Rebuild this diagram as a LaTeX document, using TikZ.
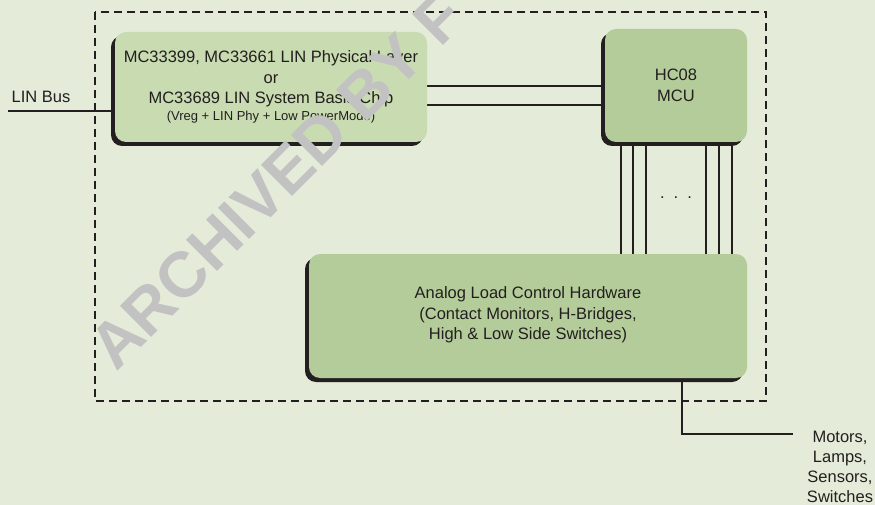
\documentclass[tikz,border=0pt]{standalone}
\usepackage{fontspec}
\setmainfont{Liberation Sans}
\usetikzlibrary{shadows}
\definecolor{bgc}{HTML}{E4ECD9}
\definecolor{boxA}{HTML}{C9DBB1}
\definecolor{boxB}{HTML}{B4CC99}
\definecolor{ink}{HTML}{231F20}
\definecolor{wmc}{HTML}{C2C2C2}
\pgfdeclarelayer{back}
\pgfsetlayers{back,main}
\begin{document}
\begin{tikzpicture}[x=1pt,y=-1pt,
  font=\fontsize{16.5}{20.5}\selectfont,
  blk/.style={rounded corners=11pt, fill=boxB, text=ink, align=center, inner sep=0pt,
    general shadow={fill=ink, shadow xshift=-4pt, shadow yshift=-4pt}},
  wire/.style={draw=ink, line width=1.4pt},
  lbl/.style={text=ink, align=center, inner sep=0pt},
  wmark/.style={text=wmc, font=\bfseries\fontsize{64}{64}\selectfont, inner sep=0pt}]
\useasboundingbox (0,0) rectangle (875,505);
\begin{pgfonlayer}{back}
\fill[bgc] (0,0) rectangle (875,505);
\end{pgfonlayer}
% boxes
\node[blk, fill=boxA, minimum width=312pt, minimum height=110pt] (phy) at (271,87)
  {\fontsize{16.5}{21.3}\selectfont MC33399, MC33661 LIN Physical Layer\\or\\MC33689 LIN System Basis Chip\\[-4pt]
   {\fontsize{13}{15}\selectfont (Vreg + LIN Phy + Low PowerMode)}};
\node[blk, minimum width=142pt, minimum height=113pt] (mcu) at (676,85.5) {HC08\\MCU};
\node[blk, minimum width=438pt, minimum height=124pt] (analog) at (528,316)
  {Analog Load Control Hardware\\(Contact Monitors, H-Bridges,\\High \& Low Side Switches)\\[-15pt]\mbox{}};
% labels
\node[lbl] (linbus) at (41,97) {LIN Bus};
\node[lbl, anchor=base] (dots) at (676,199) {.\hspace{9pt}.\hspace{9pt}.};
\node[lbl, font=\fontsize{16.5}{20}\selectfont] (loads) at (840,467) {Motors,\\Lamps,\\Sensors,\\Switches};
\coordinate (linend) at (8,111);
\coordinate (outend) at (793,434);
\begin{pgfonlayer}{back}
\draw[ink, line width=1.3pt, dash pattern=on 8pt off 5pt] (95,12) rectangle (766,401);
\draw[wire] (linend) -- (linend -| phy.west);
\draw[wire] ([yshift=1pt]phy.east) -- ([yshift=1pt]phy.east -| mcu.west);
\draw[wire] ([yshift=-18pt]phy.east) -- ([yshift=-18pt]phy.east -| mcu.west);
\foreach \dx in {-55,-43,-30,30,43,56}
  \draw[wire] ([xshift=\dx pt]mcu.south) -- ([xshift=\dx pt]mcu.south |- analog.north);
\draw[wire] ([xshift=154pt]analog.south) |- (outend);
\end{pgfonlayer}
% watermark
\begin{scope}
\clip (0,0) rectangle (875,505);
\node[wmark, anchor=base west, rotate=45] (wm) at (116,373) {ARCHIVED BY F};
\end{scope}
\end{tikzpicture}
\end{document}
